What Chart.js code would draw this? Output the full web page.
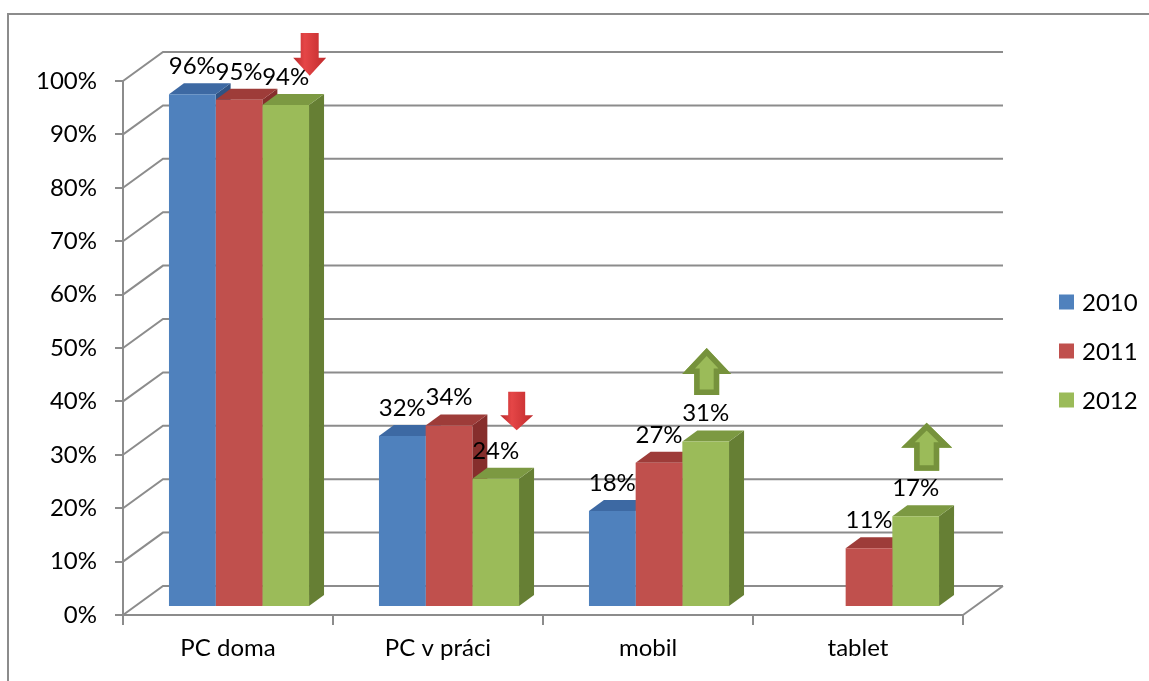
<!DOCTYPE html>
<html><head><meta charset="utf-8">
<script src="https://cdn.jsdelivr.net/npm/chart.js@4.4.1/dist/chart.umd.min.js"></script>
<style>html,body{margin:0;padding:0;background:#fff;}canvas{display:block}</style>
</head><body>
<canvas id="c" width="1149" height="681"></canvas>
<script>
// ---- data ----
const categories = ['PC doma', 'PC v práci', 'mobil', 'tablet'];
const seriesNames = ['2010', '2011', '2012'];
const values2010 = [96, 32, 18, null];
const values2011 = [95, 34, 27, 11];
const values2012 = [94, 24, 31, 17];
const yTickValues = [0, 10, 20, 30, 40, 50, 60, 70, 80, 90, 100];
// annotation arrows (category index, tail value, tip value)
const arrowCategory = [0, 1, 2, 3];
const arrowTail = [109, 41.8, 41.2, 27];
const arrowTip = [101, 34.6, 50, 36];

// ---- styles ----
const FONT = 'Lato';
const FSIZE = 24;
const GRID = '#8c8c8c';
const FRONT = ['#4F81BD', '#C0504D', '#9BBB59'];
const TOPC = ['#3D69A3', '#9E3C39', '#7C9942'];
const SIDEC = ['#2F5384', '#862E2C', '#667F34'];
const WALL = {x: 40, y: -29};
const BAR_OFF = {x: 11, y: -8};
const BAR_DEPTH = {x: 15, y: -11};
const arrowStyle = [
  {dx: 24, headW: 33, shaftW: 18, headH: 18, kind: 'red'},
  {dx: 21, headW: 33, shaftW: 17, headH: 15, kind: 'red'},
  {dx: 1, headW: 49, shaftW: 25, headH: 26, kind: 'green'},
  {dx: 11, headW: 51, shaftW: 25, headH: 25, kind: 'green'}
];

function arrowPath(ctx, cx, yTail, yTip, st) {
  const dir = yTip > yTail ? 1 : -1;
  const baseY = yTip - dir * st.headH;
  ctx.beginPath();
  ctx.moveTo(cx - st.shaftW / 2, yTail);
  ctx.lineTo(cx + st.shaftW / 2, yTail);
  ctx.lineTo(cx + st.shaftW / 2, baseY);
  ctx.lineTo(cx + st.headW / 2, baseY);
  ctx.lineTo(cx, yTip);
  ctx.lineTo(cx - st.headW / 2, baseY);
  ctx.lineTo(cx - st.shaftW / 2, baseY);
  ctx.closePath();
}

const threeD = {
  id: 'threeD',
  beforeDraw(chart) {
    const ctx = chart.ctx;
    ctx.save();
    ctx.fillStyle = '#fff';
    ctx.fillRect(0, 0, chart.width, chart.height);
    ctx.strokeStyle = GRID;
    ctx.lineWidth = 2;
    ctx.strokeRect(8, 14, chart.width + 40, chart.height + 40);
    ctx.restore();
  },
  beforeDatasetsDraw(chart) {
    const {ctx, chartArea: a, scales: {y}} = chart;
    ctx.save();
    ctx.strokeStyle = GRID;
    ctx.lineWidth = 2;
    ctx.beginPath();
    y.ticks.forEach(t => {
      const py = y.getPixelForValue(t.value);
      ctx.moveTo(a.left, py);
      ctx.lineTo(a.left + WALL.x, py + WALL.y);
      ctx.lineTo(a.right + WALL.x, py + WALL.y);
    });
    const p0 = y.getPixelForValue(0);
    ctx.moveTo(a.right, p0);
    ctx.lineTo(a.right + WALL.x, p0 + WALL.y);
    ctx.stroke();
    ctx.restore();

    // side and top faces (left to right within each category)
    ctx.save();
    ctx.translate(BAR_OFF.x, BAR_OFF.y);
    const n = chart.data.labels.length;
    for (let i = 0; i < n; i++) {
      chart.data.datasets.forEach((ds, d) => {
        if (ds.data[i] === null || ds.data[i] === undefined) return;
        const bar = chart.getDatasetMeta(d).data[i];
        const p = bar.getProps(['x', 'y', 'base', 'width'], true);
        const l = p.x - p.width / 2, r = p.x + p.width / 2;
        const t = p.y, b = p.base;
        ctx.fillStyle = SIDEC[d];
        ctx.beginPath();
        ctx.moveTo(r, t); ctx.lineTo(r + BAR_DEPTH.x, t + BAR_DEPTH.y);
        ctx.lineTo(r + BAR_DEPTH.x, b + BAR_DEPTH.y); ctx.lineTo(r, b);
        ctx.closePath(); ctx.fill();
        ctx.fillStyle = TOPC[d];
        ctx.beginPath();
        ctx.moveTo(l, t); ctx.lineTo(l + BAR_DEPTH.x, t + BAR_DEPTH.y);
        ctx.lineTo(r + BAR_DEPTH.x, t + BAR_DEPTH.y); ctx.lineTo(r, t);
        ctx.closePath(); ctx.fill();
      });
    }
    ctx.restore();
    // shift the front faces drawn by Chart.js
    ctx.save();
    ctx.translate(BAR_OFF.x, BAR_OFF.y);
  },
  afterDatasetsDraw(chart) {
    const ctx = chart.ctx;
    ctx.restore();
    // value labels
    ctx.save();
    ctx.font = FSIZE + 'px ' + FONT;
    ctx.fillStyle = '#000';
    ctx.textAlign = 'center';
    ctx.textBaseline = 'alphabetic';
    chart.data.datasets.forEach((ds, d) => {
      chart.getDatasetMeta(d).data.forEach((bar, i) => {
        const v = ds.data[i];
        if (v === null || v === undefined) return;
        const p = bar.getProps(['x', 'y'], true);
        ctx.fillText(v + '%', p.x + BAR_OFF.x, p.y + BAR_OFF.y - 20);
      });
    });
    ctx.restore();
  },
  afterDraw(chart) {
    const {ctx, scales: {y}} = chart;
    // arrows
    const greenMeta = chart.getDatasetMeta(2);
    arrowCategory.forEach((c, k) => {
      const st = arrowStyle[k];
      const bx = greenMeta.data[c].x + BAR_OFF.x + st.dx;
      const yTail = y.getPixelForValue(arrowTail[k]);
      const yTip = y.getPixelForValue(arrowTip[k]);
      ctx.save();
      arrowPath(ctx, bx, yTail, yTip, st);
      if (st.kind === 'red') {
        const g = ctx.createLinearGradient(bx - st.headW / 2, 0, bx + st.headW / 2, 0);
        g.addColorStop(0, '#B9292B');
        g.addColorStop(0.35, '#E54647');
        g.addColorStop(1, '#C02A2C');
        ctx.fillStyle = g;
        ctx.fill();
      } else {
        ctx.fillStyle = '#9BBB59';
        ctx.fill();
        ctx.clip();
        ctx.strokeStyle = '#76923C';
        ctx.lineWidth = 11;
        ctx.lineJoin = 'miter';
        ctx.stroke();
      }
      ctx.restore();
    });
    // legend
    ctx.save();
    ctx.font = FSIZE + 'px ' + FONT;
    ctx.textBaseline = 'middle';
    ctx.textAlign = 'left';
    chart.data.datasets.forEach((ds, d) => {
      const cy = 302 + d * 49;
      ctx.fillStyle = FRONT[d];
      ctx.fillRect(1059, cy - 7.5, 15, 15);
      ctx.fillStyle = '#000';
      ctx.fillText(ds.label, 1082, cy + 1);
    });
    ctx.restore();
  }
};

new Chart(document.getElementById('c'), {
  type: 'bar',
  data: {
    labels: categories,
    datasets: [
      {label: seriesNames[0], data: values2010, backgroundColor: FRONT[0]},
      {label: seriesNames[1], data: values2011, backgroundColor: FRONT[1]},
      {label: seriesNames[2], data: values2012, backgroundColor: FRONT[2]}
    ].map(ds => Object.assign(ds, {borderWidth: 0, categoryPercentage: 0.667, barPercentage: 1, clip: false}))
  },
  options: {
    responsive: false,
    animation: false,
    devicePixelRatio: 1,
    layout: {padding: {left: 8, top: 81, right: 186, bottom: 0}},
    plugins: {legend: {display: false}, tooltip: {enabled: false}},
    scales: {
      x: {
        offset: true,
        afterFit: s => { s.height = 66; },
        grid: {display: true, drawOnChartArea: false, drawTicks: true, tickLength: 10, color: GRID, lineWidth: 2, offset: true},
        border: {display: true, color: GRID, width: 2},
        ticks: {color: '#000', font: {family: FONT, size: FSIZE}, padding: 9, maxRotation: 0}
      },
      y: {
        min: 0, max: 100,
        afterFit: s => { s.width = 115; },
        afterBuildTicks: s => { s.ticks = yTickValues.map(v => ({value: v})); },
        grid: {display: true, drawOnChartArea: false, drawTicks: true, tickLength: 8, color: GRID, lineWidth: 2},
        border: {display: true, color: GRID, width: 2},
        ticks: {color: '#000', font: {family: FONT, size: FSIZE}, padding: 18, callback: v => v + '%'}
      }
    }
  },
  plugins: [threeD]
});
</script>
</body></html>
